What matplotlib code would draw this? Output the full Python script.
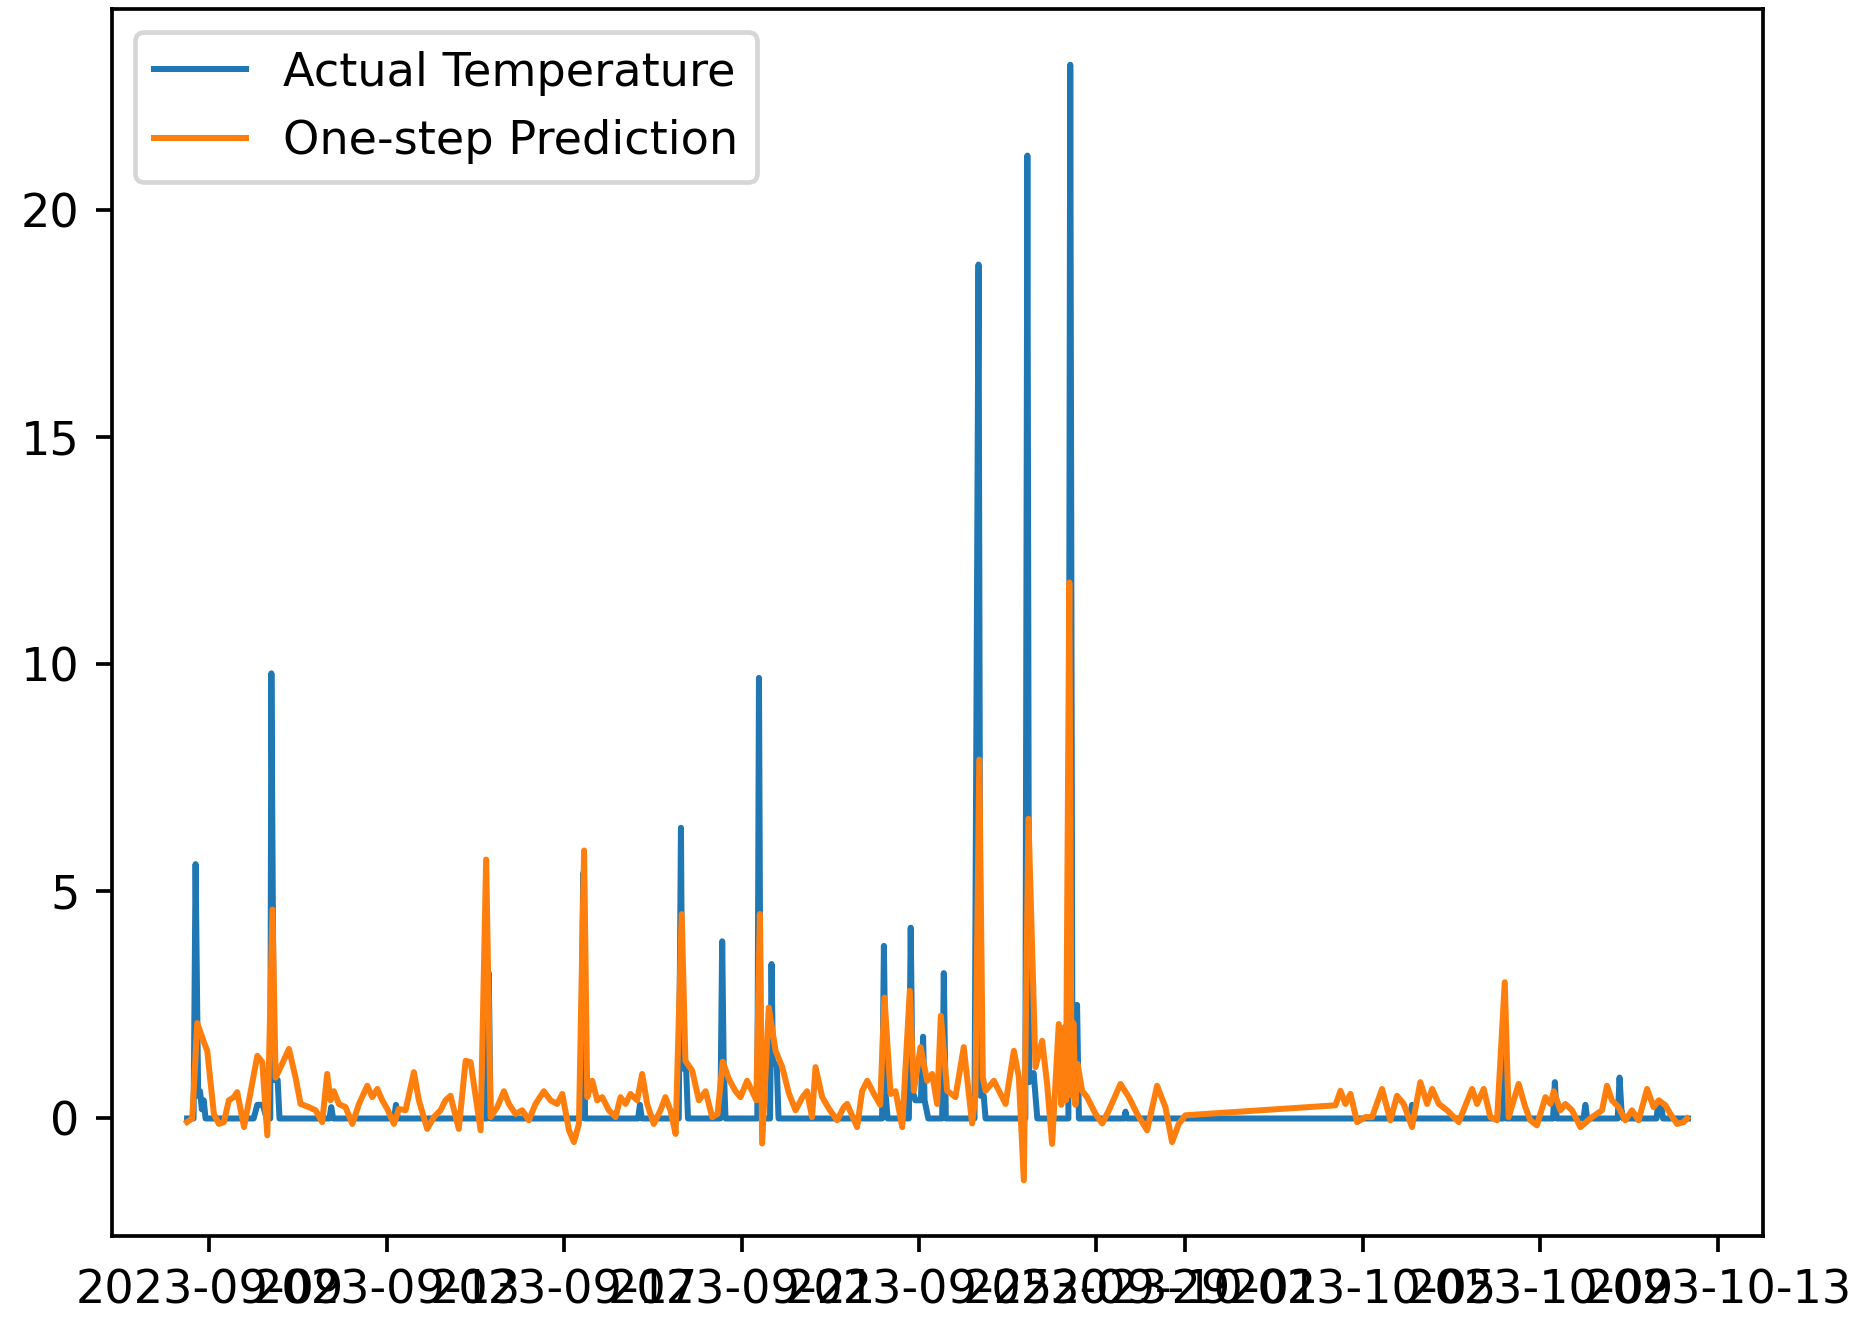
import matplotlib.pyplot as plt
import matplotlib.dates as mdates
import pandas as pd

# hours counted from 2023-09-09 00:00
actual_hours = [-12, -8.5, -7.4, -6, -5, -4, -3, -2, 24, 26, 29, 31, 33, 33.6, 35, 37, 38,
                65, 66, 67, 100, 101, 102, 150, 151.2, 152.2, 201, 202.3, 203.3,
                232, 233, 234, 254, 255.2, 256, 258, 259, 276.5, 277.5, 278.3, 279.3,
                296.5, 297.4, 298.4, 303.4, 304.2, 305, 307, 308,
                364, 365, 366, 367, 378.5, 379.5, 380.5, 382, 385, 386.2, 387, 389,
                396.5, 397.4, 398.5, 414, 415, 416.2, 417.3, 419, 420,
                441.5, 442.6, 443.6, 446, 448, 464.8, 465.8, 467, 468.5, 469.5, 470.5,
                495, 495.7, 496.5, 649.5, 650.7, 651.8, 700, 700.8, 701.6,
                727, 728, 729, 743.5, 744.5, 745.5, 762, 763, 764, 765,
                783, 784, 785.5, 786.5, 800]
actual_values = [0, 0, 5.6, 0.5, 0.6, 0.2, 0.4, 0, 0, 0.3, 0.3, 0, 0, 9.8, 0.85, 0.85, 0,
                 0, 0.25, 0, 0, 0.3, 0, 0, 3.2, 0, 0, 5.4, 0,
                 0, 0.3, 0, 0, 6.4, 1.1, 1.1, 0, 0, 3.9, 1.2, 0,
                 0, 9.7, 0, 0, 3.4, 1.2, 1.2, 0,
                 0, 3.8, 0.5, 0, 0, 4.2, 0.6, 0.4, 0.4, 1.8, 0.4, 0,
                 0, 3.2, 0, 0, 8.4, 18.8, 0.5, 0.5, 0,
                 0, 21.2, 0.8, 1.0, 0, 0, 23.2, 1.0, 0.6, 2.5, 0,
                 0, 0.15, 0, 0, 0.3, 0, 0, 1.7, 0,
                 0, 0.8, 0, 0, 0.3, 0, 0, 0.9, 0.2, 0,
                 0, 0.35, 0.3, 0, 0]

pred_hours = [-12, -9.2, -6.5, -2.9, -1.1, 2.5, 5.2, 7.9, 10.6, 13.3, 15.1, 18.8, 21.5,
              26.0, 28.7, 31.4, 34.2, 35.9, 38.6, 43.1, 46.7, 49.4, 53.9, 57.5, 61.1,
              63.8, 65.6, 67.4, 70.1, 73.7, 77.4, 81.0, 85.5, 88.2, 90.9, 93.6, 96.3,
              99.9, 102.6, 106.2, 110.7, 113.4, 117.9, 121.5, 125.1, 127.8, 130.5,
              135.0, 138.7, 141.4, 146.8, 149.8, 152.2, 155.8, 159.4, 162.1, 165.7,
              169.3, 172.9, 176.5, 181.0, 184.6, 188.2, 191.0, 194.6, 197.3, 200.0,
              202.8, 204.5, 207.2, 209.9, 212.6, 216.2, 219.8, 222.5, 225.2, 227.9,
              231.5, 234.2, 236.9, 240.5, 244.1, 246.8, 249.5, 252.3, 255.6, 257.6,
              261.3, 264.9, 268.5, 272.1, 275.0, 277.8, 281.1, 284.7, 287.4, 291.0,
              293.7, 296.0, 297.9, 299.1, 302.7, 306.4, 310.0, 313.6, 317.2, 320.8,
              323.4, 326.1, 328.0, 331.6, 335.5, 339.7, 343.3, 345.1, 350.5, 353.2,
              356.0, 359.6, 363.0, 365.3, 368.6, 371.3, 374.9, 379.0, 381.2, 384.8,
              388.4, 391.1, 393.8, 395.8, 399.2, 403.7, 408.2, 412.7, 414.5, 416.6,
              418.5, 420.0, 424.5, 427.2, 430.8, 435.3, 438.0, 440.7, 443.2, 447.0,
              450.6, 453.3, 456.0, 459.6, 461.0, 462.3, 463.5, 465.3, 466.5, 467.5,
              468.6, 469.8, 472.2, 474.9, 479.5, 483.1, 486.7, 493.0, 497.5, 502.0,
              507.4, 512.8, 517.3, 520.9, 524.5, 528.1, 609.3, 612.0, 614.7, 617.4,
              621.0, 625.5, 629.1, 634.5, 639.0, 642.6, 646.2, 650.7, 655.2, 658.9,
              661.6, 665.2, 669.7, 676.0, 683.2, 685.9, 689.5, 693.1, 696.7, 700.9,
              703.0, 708.4, 712.0, 714.7, 718.3, 722.9, 725.6, 727.4, 731.0, 733.7,
              737.3, 741.8, 748.1, 753.5, 756.2, 758.9, 762.5, 766.1, 769.7, 773.3,
              777.9, 781.4, 784.2, 787.8, 790.5, 794.1, 797.7, 799.5]
pred_values = [-0.08, 0.0, 2.1, 1.68, 1.49, 0.1, -0.12, -0.08, 0.4, 0.47, 0.58, -0.19, 0.4,
               1.38, 1.24, -0.37, 4.6, 0.9, 1.13, 1.53, 0.9, 0.32, 0.25, 0.18, -0.08,
               0.98, 0.4, 0.6, 0.32, 0.25, -0.12, 0.32, 0.72, 0.47, 0.65, 0.4, 0.21,
               -0.12, 0.21, 0.18, 1.02, 0.4, -0.23, 0.03, 0.18, 0.4, 0.5,
               -0.23, 1.27, 1.24, -0.26, 5.7, 0.03, 0.25, 0.6, 0.32, 0.1,
               0.18, -0.04, 0.32, 0.6, 0.4, 0.32, 0.54, -0.26, -0.52, -0.12,
               5.9, 0.47, 0.83, 0.4, 0.47, 0.18, 0.03, 0.47, 0.32, 0.54,
               0.4, 0.98, 0.32, -0.12, 0.18, 0.47, 0.18, -0.34, 4.5, 1.27,
               1.05, 0.4, 0.6, 0.03, 0.1, 1.25, 0.87, 0.6, 0.47, 0.83,
               0.6, 0.4, 4.5, -0.55, 2.44, 1.49, 1.13, 0.55, 0.18, 0.46,
               0.6, 0.03, 1.13, 0.47, 0.2, -0.04, 0.25, 0.32, -0.19, 0.6,
               0.83, 0.54, 0.3, 2.66, 0.54, 0.6, -0.19, 2.81, 0.61, 1.57,
               0.83, 0.98, 0.32, 2.26, 0.61, 0.47, 1.57, -0.11, 0.5, 7.9,
               0.9, 0.61, 0.83, 0.61, 0.32, 1.49, 0.91, -1.36, 6.6, 1.13,
               1.71, 0.76, -0.56, 2.08, 0.3, 2.0, 0.4, 11.8, 0.5, 2.1,
               0.3, 1.2, 0.61, 0.47, 0.1, -0.11, 0.18, 0.76, 0.47, 0.1,
               -0.26, 0.72, 0.25, -0.52, -0.12, 0.07, 0.29, 0.61, 0.32, 0.54,
               -0.08, 0.03, 0.03, 0.65, -0.04, 0.5, 0.32, -0.19, 0.8, 0.32,
               0.65, 0.32, 0.18, -0.08, 0.65, 0.32, 0.65, 0.03, -0.04, 3.0,
               0.03, 0.76, 0.25, -0.04, -0.15, 0.47, 0.32, 0.6, 0.18, 0.32,
               0.18, -0.19, 0.03, 0.18, 0.72, 0.4, 0.25, -0.04, 0.18, -0.04,
               0.65, 0.25, 0.4, 0.29, 0.1, -0.12, -0.08, 0.0]

start = pd.Timestamp('2023-09-09')
actual_dates = start + pd.to_timedelta(actual_hours, unit='h')
pred_dates = start + pd.to_timedelta(pred_hours, unit='h')

fig = plt.figure(figsize=(1855 / 333, 1318 / 333), dpi=333)
ax = fig.add_axes([0.0604, 0.0622, 0.890, 0.931])

ax.plot(actual_dates, actual_values, label='Actual Temperature', linewidth=1.3)
ax.plot(pred_dates, pred_values, label='One-step Prediction', linewidth=1.3)

ax.xaxis.set_major_locator(mdates.DayLocator(bymonthday=[1, 5, 9, 13, 17, 21, 25, 29]))
ax.xaxis.set_major_formatter(mdates.DateFormatter('%Y-%m-%d'))
ax.legend(loc='upper left')

fig.savefig('out.png', dpi=333)
